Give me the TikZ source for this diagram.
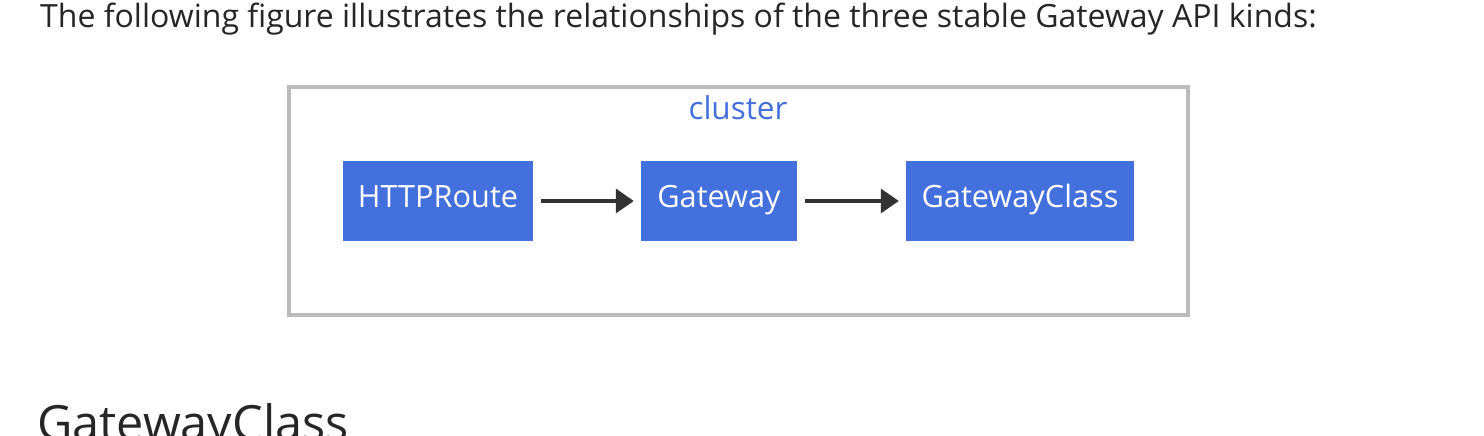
\documentclass[tikz,border=0pt]{standalone}
\usepackage{fontspec}
\setmainfont{Open Sans}
\usetikzlibrary{arrows.meta}
\definecolor{kindblue}{HTML}{4370DD}
\definecolor{framegray}{HTML}{BBBBBB}
\definecolor{linkgray}{HTML}{333333}
\begin{document}
\begin{tikzpicture}[>={Triangle[length=18pt,width=24pt]},x=1pt,y=-1pt,
	kind/.style={fill=kindblue,text=white,minimum height=80pt,inner sep=0pt,text height=20pt,text depth=8pt,font=\fontsize{30.7}{36}\selectfont},
	link/.style={->,draw=linkgray,line width=3.5pt,shorten <=8pt,shorten >=7pt}]
		\useasboundingbox (0,0) rectangle (1484,436);
		\clip (0,0) rectangle (1484,436);
		\fill[white] (0,0) rectangle (1484,436);
		% Text der Seite
		\node[anchor=base west,inner sep=0pt,text=black!85,font=\fontsize{32}{38}\selectfont] (intro) at (40,28) {The following figure illustrates the relationships of the three stable Gateway API kinds:};
		\node[anchor=base west,inner sep=0pt,text=black!85,font=\fontsize{48.6}{58}\selectfont] (heading) at (37,440) {GatewayClass};
		% Cluster
		\node[draw=framegray,line width=3.5pt,minimum width=899pt,minimum height=228pt,inner sep=0pt] (cluster) at (738.5,201) {};
		\node[anchor=base,inner sep=0pt,text=kindblue,font=\fontsize{31.5}{36}\selectfont] (clusterlabel) at (738,120) {cluster};
		\node[kind,minimum width=190pt] (route) at (438,201) {HTTPRoute};
		\node[kind,minimum width=156pt] (gateway) at (719,201) {Gateway};
		\node[kind,minimum width=228pt] (gwclass) at (1020,201) {GatewayClass};
		\draw[link] (route) -- (gateway);
		\draw[link] (gateway) -- (gwclass);
		\end{tikzpicture}
\end{document}
